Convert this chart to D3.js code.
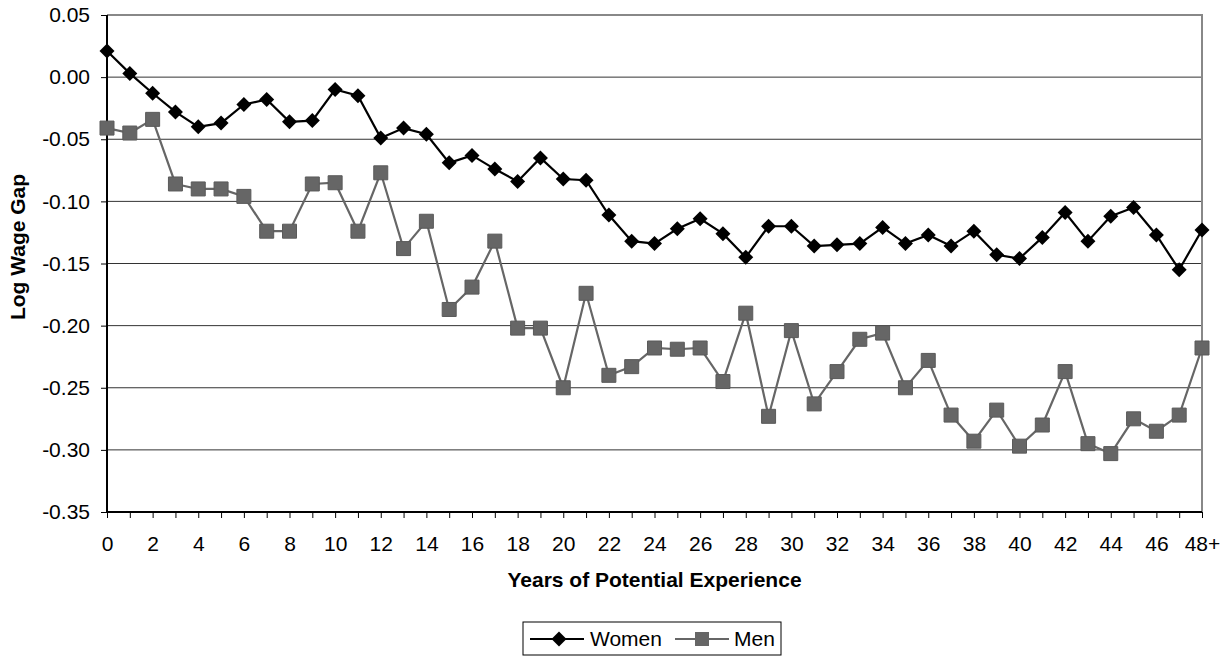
<!DOCTYPE html>
<html>
<head>
<meta charset="utf-8">
<script src="https://cdn.jsdelivr.net/npm/d3@7"></script>
<style>
  body { margin: 0; background: #fff; }
  text { font-family: Arial, "Liberation Sans", sans-serif; }
</style>
</head>
<body>
<div class="chart"></div>
<script>
// Log wage gap by years of potential experience

var categories = ["0","1","2","3","4","5","6","7","8","9","10","11","12","13","14","15","16","17","18","19",
    "20","21","22","23","24","25","26","27","28","29","30","31","32","33","34","35","36","37","38","39",
    "40","41","42","43","44","45","46","47","48+"];

var women = [0.021, 0.003, -0.013, -0.028, -0.040, -0.037, -0.022, -0.018, -0.036, -0.035,
    -0.010, -0.015, -0.049, -0.041, -0.046, -0.069, -0.063, -0.074, -0.084, -0.065,
    -0.082, -0.083, -0.111, -0.132, -0.134, -0.122, -0.114, -0.126, -0.145, -0.120,
    -0.120, -0.136, -0.135, -0.134, -0.121, -0.134, -0.127, -0.136, -0.124, -0.143,
    -0.146, -0.129, -0.109, -0.132, -0.112, -0.105, -0.127, -0.155, -0.123];

var men = [-0.041, -0.045, -0.034, -0.086, -0.090, -0.090, -0.096, -0.124, -0.124, -0.086,
    -0.085, -0.124, -0.077, -0.138, -0.116, -0.187, -0.169, -0.132, -0.202, -0.202,
    -0.250, -0.174, -0.240, -0.233, -0.218, -0.219, -0.218, -0.245, -0.190, -0.273,
    -0.204, -0.263, -0.237, -0.211, -0.206, -0.250, -0.228, -0.272, -0.293, -0.268,
    -0.297, -0.280, -0.237, -0.295, -0.303, -0.275, -0.285, -0.272, -0.218];

var yTicks = [0.05, 0.00, -0.05, -0.10, -0.15, -0.20, -0.25, -0.30, -0.35];

var svgWidth = 1231;
var svgHeight = 656;

var margin = { top: 15, right: 29, bottom: 144, left: 107 };
var plotWidth = svgWidth - margin.left - margin.right;
var plotHeight = svgHeight - margin.top - margin.bottom;

var fontSize = "21px";

var svg = d3.select(".chart")
    .append("svg")
    .attr("width", svgWidth)
    .attr("height", svgHeight);

var chartGroup = svg.append("g")
    .attr("transform", `translate(${margin.left}, ${margin.top})`);

// Scales
var xScale = d3.scalePoint()
    .domain(categories)
    .range([0, plotWidth]);

var yScale = d3.scaleLinear()
    .domain([-0.35, 0.05])
    .range([plotHeight, 0]);

// Gridlines
chartGroup.selectAll(".grid")
    .data(yTicks.filter(d => d > -0.34 && d < 0.04))
    .enter()
    .append("line")
    .attr("x1", 0)
    .attr("x2", plotWidth)
    .attr("y1", d => yScale(d))
    .attr("y2", d => yScale(d))
    .attr("stroke", "#333")
    .attr("stroke-width", 1);

// Top and right border
chartGroup.append("path")
    .attr("d", `M0,${yScale(0.05)}H${plotWidth}V${plotHeight}`)
    .attr("fill", "none")
    .attr("stroke", "#888")
    .attr("stroke-width", 2);

// Axes
var xAxis = d3.axisBottom(xScale)
    .tickSize(6)
    .tickPadding(18)
    .tickFormat((d, i) => i % 2 === 0 ? d : "");

var yAxis = d3.axisLeft(yScale)
    .tickValues(yTicks)
    .tickSize(6)
    .tickPadding(11)
    .tickFormat(d => d.toFixed(2));

var xg = chartGroup.append("g")
    .attr("transform", `translate(0, ${plotHeight})`)
    .call(xAxis);

var yg = chartGroup.append("g")
    .call(yAxis);

[xg, yg].forEach(function(g) {
    g.select(".domain").attr("stroke", "#000").attr("stroke-width", 2);
    g.selectAll(".tick line").attr("stroke", "#000");
    g.selectAll("text")
        .attr("font-size", fontSize)
        .attr("fill", "#000")
        .style("font-family", "Arial, 'Liberation Sans', sans-serif");
});
yg.select(".domain").attr("d", `M0,0V${plotHeight}`);
xg.select(".domain").attr("d", `M0,0H${plotWidth}`);

// Lines
var line = d3.line()
    .x((d, i) => xScale(categories[i]))
    .y(d => yScale(d));

chartGroup.append("path")
    .datum(men)
    .attr("d", line)
    .attr("fill", "none")
    .attr("stroke", "#666")
    .attr("stroke-width", 2.2);

chartGroup.append("path")
    .datum(women)
    .attr("d", line)
    .attr("fill", "none")
    .attr("stroke", "#000")
    .attr("stroke-width", 2.2);

// Markers
var square = d3.symbol().type(d3.symbolSquare).size(196);
var diamond = "M0,-7.5L7.5,0L0,7.5L-7.5,0Z";

chartGroup.selectAll(".menPoint")
    .data(men)
    .enter()
    .append("path")
    .attr("class", "menPoint")
    .attr("d", square)
    .attr("transform", (d, i) => `translate(${xScale(categories[i])}, ${yScale(d)})`)
    .attr("fill", "#666")
    .attr("stroke", "#5a5a5a")
    .attr("stroke-width", 1);

chartGroup.selectAll(".womenPoint")
    .data(women)
    .enter()
    .append("path")
    .attr("class", "womenPoint")
    .attr("d", diamond)
    .attr("transform", (d, i) => `translate(${xScale(categories[i])}, ${yScale(d)})`)
    .attr("fill", "#000");

// Axis titles
svg.append("text")
    .attr("transform", "translate(25, 247) rotate(-90)")
    .attr("text-anchor", "middle")
    .attr("font-size", fontSize)
    .attr("font-weight", "bold")
    .text("Log Wage Gap");

svg.append("text")
    .attr("x", margin.left + plotWidth / 2)
    .attr("y", 587)
    .attr("text-anchor", "middle")
    .attr("font-size", fontSize)
    .attr("font-weight", "bold")
    .text("Years of Potential Experience");

// Legend
var legend = svg.append("g")
    .attr("transform", "translate(523, 622)");

legend.append("rect")
    .attr("width", 258)
    .attr("height", 33)
    .attr("fill", "#fff")
    .attr("stroke", "#000")
    .attr("stroke-width", 1);

legend.append("line")
    .attr("x1", 7).attr("x2", 61).attr("y1", 17).attr("y2", 17)
    .attr("stroke", "#000").attr("stroke-width", 2.2);
legend.append("path")
    .attr("d", diamond)
    .attr("transform", "translate(36, 17)")
    .attr("fill", "#000");
legend.append("text")
    .attr("x", 67).attr("y", 24)
    .attr("font-size", fontSize)
    .text("Women");

legend.append("line")
    .attr("x1", 152).attr("x2", 206).attr("y1", 17).attr("y2", 17)
    .attr("stroke", "#666").attr("stroke-width", 2.2);
legend.append("path")
    .attr("d", square)
    .attr("transform", "translate(179, 17)")
    .attr("fill", "#666");
legend.append("text")
    .attr("x", 211).attr("y", 24)
    .attr("font-size", fontSize)
    .text("Men");
</script>
</body>
</html>
